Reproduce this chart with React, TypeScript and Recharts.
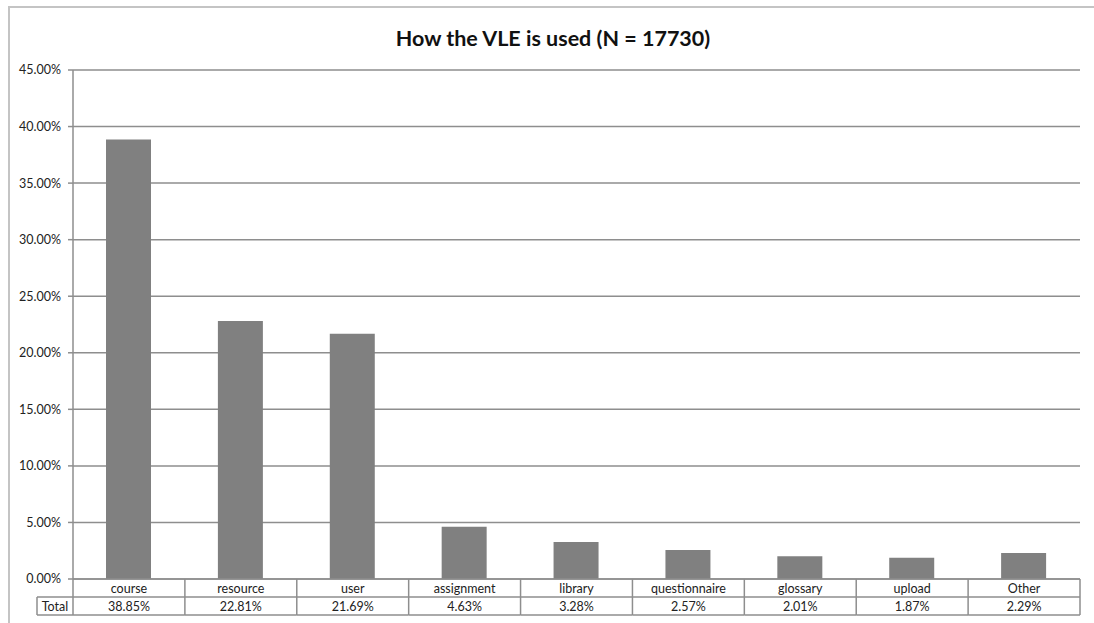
import React from 'react';
import { BarChart, Bar, XAxis, YAxis, CartesianGrid } from 'recharts';

const categories = ['course', 'resource', 'user', 'assignment', 'library', 'questionnaire', 'glossary', 'upload', 'Other'];
const totals = [38.85, 22.81, 21.69, 4.63, 3.28, 2.57, 2.01, 1.87, 2.29];
const yTicks = [0, 5, 10, 15, 20, 25, 30, 35, 40, 45];

const data = categories.map((name, i) => ({ name, total: totals[i] }));

const WIDTH = 1094;
const HEIGHT = 623;
const MARGIN = { top: 70, right: 14, bottom: 8, left: 0 };
const Y_AXIS_W = 73;
const TABLE_H = 36;
const PLOT_W = WIDTH - MARGIN.left - MARGIN.right - Y_AXIS_W;

const FONT = 'Lato, "Open Sans", sans-serif';
const LINE = '#8e8e8e';
const TEXT = '#222';
const TABLE_FONT = 12.5;

const fmt = (v: number) => `${v.toFixed(2)}%`;

const TableTick = (props: any) => {
  const { x, y, payload, index } = props;
  const band = PLOT_W / categories.length;
  const row = TABLE_H / 2;
  const l = x - band / 2;
  const r = x + band / 2;
  const labelW = 36;
  return (
    <g>
      {index === 0 && (
        <g>
          <line x1={l} y1={y} x2={l} y2={y + TABLE_H} stroke={LINE} strokeWidth={1.5} />
          <line x1={l - labelW} y1={y + row} x2={l} y2={y + row} stroke={LINE} strokeWidth={1.5} />
          <line x1={l - labelW} y1={y + TABLE_H} x2={l} y2={y + TABLE_H} stroke={LINE} strokeWidth={1.5} />
          <line x1={l - labelW} y1={y + row} x2={l - labelW} y2={y + TABLE_H} stroke={LINE} strokeWidth={1.5} />
          <text x={l - labelW / 2} y={y + row + 13.5} textAnchor="middle" fontSize={TABLE_FONT} fill={TEXT} fontFamily={FONT}>
            Total
          </text>
        </g>
      )}
      <line x1={r} y1={y} x2={r} y2={y + TABLE_H} stroke={LINE} strokeWidth={1.5} />
      <line x1={l} y1={y + row} x2={r} y2={y + row} stroke={LINE} strokeWidth={1.5} />
      <line x1={l} y1={y + TABLE_H} x2={r} y2={y + TABLE_H} stroke={LINE} strokeWidth={1.5} />
      <text x={x} y={y + 13.5} textAnchor="middle" fontSize={TABLE_FONT} fill={TEXT} fontFamily={FONT}>
        {payload.value}
      </text>
      <text x={x} y={y + row + 13.5} textAnchor="middle" fontSize={TABLE_FONT} fill={TEXT} fontFamily={FONT}>
        {fmt(totals[index])}
      </text>
    </g>
  );
};

export default function App() {
  return (
    <div
      style={{
        position: 'absolute',
        left: 0,
        top: 0,
        width: WIDTH,
        height: HEIGHT,
        overflow: 'hidden',
        background: '#fff',
      }}
    >
      <div
        style={{
          position: 'absolute',
          left: 8,
          top: 6,
          width: 1200,
          height: 700,
          border: '2px solid #c4c4c4',
        }}
      />
      <div
        style={{
          position: 'absolute',
          left: 0,
          top: 25.5,
          width: 1106,
          textAlign: 'center',
          fontFamily: FONT,
          fontWeight: 700,
          fontSize: 21.5,
          lineHeight: '25px',
          color: '#111',
        }}
      >
        How the VLE is used (N = 17730)
      </div>
      <div style={{ position: 'absolute', left: 0, top: 0 }}>
        <BarChart width={WIDTH} height={HEIGHT} data={data} margin={MARGIN}>
          <CartesianGrid vertical={false} stroke={LINE} strokeWidth={1.5} />
          <XAxis
            dataKey="name"
            height={TABLE_H}
            tickSize={0}
            tickMargin={0}
            tickLine={false}
            axisLine={{ stroke: LINE, strokeWidth: 1.5 }}
            interval={0}
            tick={<TableTick />}
          />
          <YAxis
            width={Y_AXIS_W}
            domain={[0, 45]}
            ticks={yTicks}
            tickFormatter={fmt}
            tickSize={5}
            tickMargin={7}
            axisLine={{ stroke: LINE, strokeWidth: 1.5 }}
            tickLine={{ stroke: LINE, strokeWidth: 1.5 }}
            tick={{ fontSize: 12.5, fill: TEXT, fontFamily: FONT }}
          />
          <Bar dataKey="total" fill="#808080" barSize={45} isAnimationActive={false} />
        </BarChart>
      </div>
    </div>
  );
}
